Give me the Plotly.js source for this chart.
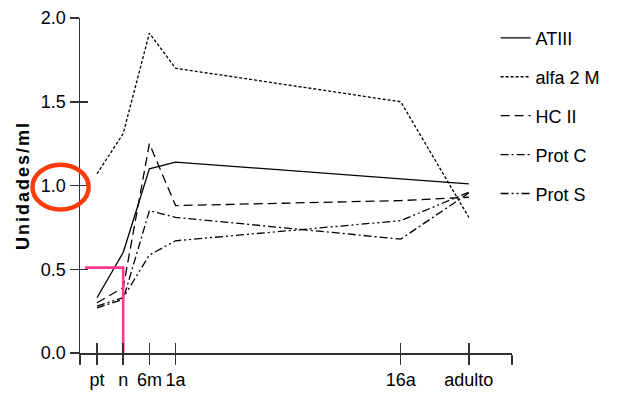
<!DOCTYPE html>
<html>
<head>
<meta charset="utf-8">
<script src="https://cdn.plot.ly/plotly-3.0.1.min.js"></script>
<style>
  html, body { margin: 0; padding: 0; background: #fff; }
  #chart { width: 618px; height: 394px; }
  .ytitle { letter-spacing: 2px; }
</style>
</head>
<body>
<div id="chart"></div>
<script>
// ---- data ----
var categories = ['pt', 'n', '6m', '1a', '16a', 'adulto'];
var xPos = [1, 2, 3, 4, 12.6, 15.2];
var axisEnds = [0.35, 16.85];
var atiii  = [0.33, 0.60, 1.10, 1.14, 1.04, 1.01];
var alfa2m = [1.07, 1.31, 1.91, 1.70, 1.50, 0.81];
var hc2    = [0.30, 0.39, 1.25, 0.88, 0.91, 0.93];
var protC  = [0.27, 0.32, 0.85, 0.81, 0.68, 0.955];
var protS  = [0.28, 0.33, 0.585, 0.67, 0.79, 0.96];
var seriesNames = ['ATIII', 'alfa 2 M', 'HC II', 'Prot C', 'Prot S'];
var refX = [0.54, 2, 2];
var refY = [0.51, 0.51, 0];
var yTicks = [0, 0.5, 1.0, 1.5, 2.0];
var yTickText = ['0.0', '0.5', '1.0', '1.5', '2.0'];

// ---- styles ----
var FONT = '"Liberation Sans", Arial, sans-serif';
var dashes = ['solid', '3px,2px', '9px,5px', '8px,3px,2px,3px', '8px,3px,2px,3px,2px,3px'];
var allSeries = [atiii, alfa2m, hc2, protC, protS];

var traces = allSeries.map(function (ys, i) {
  return {
    x: xPos, y: ys, type: 'scatter', mode: 'lines',
    name: seriesNames[i], legendgroup: 'g' + i,
    line: { color: '#000', width: 1.3, dash: dashes[i] },
    hoverinfo: 'skip'
  };
});
traces.push({
  x: refX, y: refY, type: 'scatter', mode: 'lines', showlegend: false,
  line: { color: '#ff3a8c', width: 2.6 }, hoverinfo: 'skip'
});
// overlay trace to carry the inward half of the crossing ticks
traces.push({ x: [xPos[0]], y: [null], xaxis: 'x2', yaxis: 'y2', showlegend: false, hoverinfo: 'skip', mode: 'lines' });

var tickVals = [axisEnds[0]].concat(xPos, [axisEnds[1]]);
var tickText = [''].concat(categories, ['']);

var layout = {
  width: 618, height: 394,
  margin: { l: 80, r: 104, t: 18, b: 41 },
  paper_bgcolor: '#fff', plot_bgcolor: '#fff',
  font: { family: FONT, size: 18, color: '#000' },
  showlegend: true,
  legend: {
    x: 0.962, y: 0.995, xanchor: 'left', yanchor: 'top',
    bgcolor: 'rgba(0,0,0,0)', tracegroupgap: 12.5,
    font: { family: FONT, size: 18, color: '#000' }
  },
  xaxis: {
    range: axisEnds, tickmode: 'array', tickvals: tickVals, ticktext: tickText, tickangle: 0,
    showgrid: false, zeroline: false, showline: true, linecolor: '#333', linewidth: 1.5,
    ticks: 'outside', ticklen: 10, tickwidth: 1.5, tickcolor: '#333',
    tickfont: { family: FONT, size: 18, color: '#000' }, fixedrange: true
  },
  yaxis: {
    range: [0, 2], tickmode: 'array', tickvals: yTicks, ticktext: yTickText,
    showgrid: false, zeroline: false, showline: true, linecolor: '#333', linewidth: 1.5,
    ticks: 'outside', ticklen: 9, tickwidth: 1.5, tickcolor: '#333',
    tickfont: { family: FONT, size: 18, color: '#000' },
    title: { text: 'Unidades/ml', font: { family: '"Liberation Sans", Arial, sans-serif', size: 18, color: '#000', weight: 'bold' }, standoff: 6 },
    fixedrange: true
  },
  xaxis2: {
    overlaying: 'x', anchor: 'y', range: axisEnds, tickmode: 'array', tickvals: tickVals,
    showticklabels: false, showgrid: false, zeroline: false, showline: false,
    ticks: 'inside', ticklen: 10, tickwidth: 1.5, tickcolor: '#333', fixedrange: true
  },
  yaxis2: {
    overlaying: 'y', anchor: 'x', side: 'left', range: [0, 2], tickmode: 'array', tickvals: yTicks,
    showticklabels: false, showgrid: false, zeroline: false, showline: false,
    ticks: 'inside', ticklen: 8, tickwidth: 1.5, tickcolor: '#333', fixedrange: true
  },
  shapes: [{
    type: 'circle', xref: 'paper', yref: 'paper',
    x0: -0.11, x1: 0.02, y0: 0.428, y1: 0.562,
    line: { color: '#ff3b0a', width: 4.5 }
  }]
};

Plotly.newPlot('chart', traces, layout, { staticPlot: true, displayModeBar: false });
</script>
</body>
</html>
